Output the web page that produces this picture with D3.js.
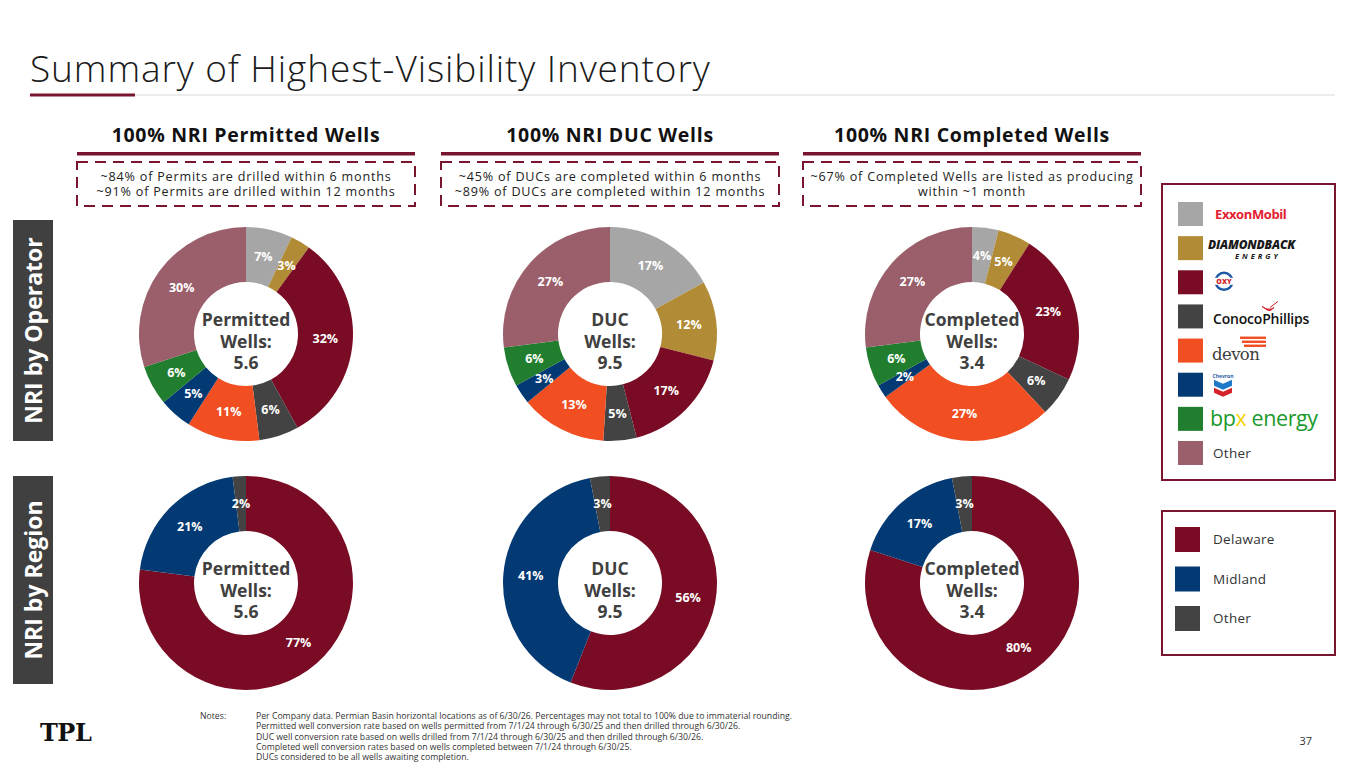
<!DOCTYPE html>
<html lang="en">
<head>
  <meta charset="UTF-8">
  <title>Summary of Highest-Visibility Inventory</title>
  <script src="https://d3js.org/d3.v7.min.js"></script>
  <style>
    body { margin: 0; overflow: hidden; background: #fff; }
    svg { display: block; font-family: "Open Sans", "Noto Sans", sans-serif; }
  </style>
</head>
<body>
  <svg id="slide" width="1365" height="768"></svg>

  <script>
    // ---- data ----
    const operators = ["ExxonMobil", "Diamondback", "Oxy", "ConocoPhillips", "Devon", "Chevron", "bpx energy", "Other"];
    const operatorColors = ["#a6a6a6", "#b18b35", "#790b24", "#434343", "#f14e22", "#043a73", "#217e2e", "#9a5f6a"];
    const permittedByOperator = [7, 3, 32, 6, 11, 5, 6, 30];
    const ducByOperator = [17, 12, 17, 5, 13, 3, 6, 27];
    const completedByOperator = [4, 5, 23, 6, 27, 2, 6, 27];

    const regions = ["Delaware", "Midland", "Other"];
    const regionColors = ["#790b24", "#043a73", "#434343"];
    const permittedByRegion = [77, 21, 2];
    const ducByRegion = [56, 41, 3];
    const completedByRegion = [80, 17, 3];

    const wellTypes = ["Permitted", "DUC", "Completed"];
    const wellCounts = ["5.6", "9.5", "3.4"];
    const headers = ["100% NRI Permitted Wells", "100% NRI DUC Wells", "100% NRI Completed Wells"];
    const callouts = [
      ["~84% of Permits are drilled within 6 months", "~91% of Permits are drilled within 12 months"],
      ["~45% of DUCs are completed within 6 months", "~89% of DUCs are completed within 12 months"],
      ["~67% of Completed Wells are listed as producing", "within ~1 month"]
    ];
    const notes = [
      "Per Company data. Permian Basin horizontal locations as of 6/30/26. Percentages may not total to 100% due to immaterial rounding.",
      "Permitted well conversion rate based on wells permitted from 7/1/24 through 6/30/25 and then drilled through 6/30/26.",
      "DUC well conversion rate based on wells drilled from 7/1/24 through 6/30/25 and then drilled through 6/30/26.",
      "Completed well conversion rates based on wells completed between 7/1/24 through 6/30/25.",
      "DUCs considered to be all wells awaiting completion."
    ];

    // ---- layout ----
    const maroon = "#7a1530";
    const colX = [246, 610, 972];
    const rowY = [334, 583];
    const rOuter = 107, rInner = 52;

    const svg = d3.select("#slide");

    // title
    svg.append("text")
      .attr("x", 30).attr("y", 82)
      .attr("font-size", 37).attr("font-weight", 300)
      .attr("letter-spacing", 0.9)
      .attr("fill", "#1a1a1a")
      .text("Summary of Highest-Visibility Inventory");
    svg.append("line")
      .attr("x1", 30).attr("x2", 1335).attr("y1", 95).attr("y2", 95)
      .attr("stroke", "#d9d9d9").attr("stroke-width", 1);
    svg.append("rect")
      .attr("x", 30).attr("y", 93.5).attr("width", 105).attr("height", 3)
      .attr("fill", maroon);

    // column headers + callout boxes
    const cols = svg.selectAll("g.col").data(headers).join("g")
      .attr("class", "col")
      .attr("transform", (d, i) => `translate(${colX[i]},0)`);

    cols.append("text")
      .attr("text-anchor", "middle").attr("y", 142)
      .attr("font-size", 19.5).attr("font-weight", 700).attr("fill", "#111")
      .attr("letter-spacing", 0.7)
      .text(d => d);
    cols.append("rect")
      .attr("x", -169).attr("y", 152).attr("width", 338).attr("height", 3.5)
      .attr("fill", maroon);
    cols.append("rect")
      .attr("x", -169).attr("y", 162).attr("width", 338).attr("height", 44)
      .attr("fill", "none").attr("stroke", maroon)
      .attr("stroke-width", 2).attr("stroke-dasharray", "11 7");
    cols.each(function (d, i) {
      const t = d3.select(this).append("text")
        .attr("text-anchor", "middle")
        .attr("font-size", 12.6).attr("letter-spacing", 0.8).attr("fill", "#222");
      callouts[i].forEach((line, j) => {
        t.append("tspan").attr("x", 0).attr("y", 181 + j * 15.2).text(line);
      });
    });

    // row labels (vertical)
    const rowLabels = [["NRI by Operator", 220, 221], ["NRI by Region", 476, 208]];
    rowLabels.forEach(([label, top, h]) => {
      svg.append("rect")
        .attr("x", 13).attr("y", top).attr("width", 40).attr("height", h)
        .attr("fill", "#404040");
      svg.append("text")
        .attr("transform", `translate(41.5,${top + h / 2}) rotate(-90)`)
        .attr("text-anchor", "middle")
        .attr("font-size", 23).attr("font-weight", 700).attr("fill", "#fff")
        .text(label);
    });

    // donuts
    const pie = d3.pie().sort(null).value(d => d);
    const arc = d3.arc().innerRadius(rInner).outerRadius(rOuter);
    const labelArc = d3.arc().innerRadius((rInner + rOuter) / 2).outerRadius((rInner + rOuter) / 2);

    function donut(values, colors, cx, cy, typeIdx) {
      const g = svg.append("g").attr("transform", `translate(${cx},${cy})`);
      const arcs = pie(values);
      g.selectAll("path").data(arcs).join("path")
        .attr("d", arc)
        .attr("fill", (d, i) => colors[i]);
      g.selectAll("text.pct").data(arcs).join("text")
        .attr("class", "pct")
        .attr("transform", d => `translate(${labelArc.centroid(d)})`)
        .attr("text-anchor", "middle").attr("dy", "0.36em")
        .attr("font-size", 12.5).attr("font-weight", 700).attr("fill", "#fff")
        .text(d => d.data + "%");
      const c = g.append("text")
        .attr("text-anchor", "middle")
        .attr("font-size", 17.5).attr("font-weight", 700).attr("fill", "#404040");
      [wellTypes[typeIdx], "Wells:", wellCounts[typeIdx]].forEach((line, j) => {
        c.append("tspan").attr("x", 0).attr("y", -8 + j * 21.5).text(line);
      });
    }

    [permittedByOperator, ducByOperator, completedByOperator].forEach((v, i) =>
      donut(v, operatorColors, colX[i], rowY[0], i));
    [permittedByRegion, ducByRegion, completedByRegion].forEach((v, i) =>
      donut(v, regionColors, colX[i], rowY[1], i));

    // operator legend
    svg.append("rect")
      .attr("x", 1162).attr("y", 184).attr("width", 173).attr("height", 296)
      .attr("fill", "none").attr("stroke", maroon).attr("stroke-width", 2);
    const legY = d3.scalePoint().domain(operators).range([202, 441]);
    svg.selectAll("rect.opsw").data(operators).join("rect")
      .attr("class", "opsw")
      .attr("x", 1178).attr("y", d => legY(d))
      .attr("width", 25).attr("height", 24)
      .attr("fill", (d, i) => operatorColors[i]);

    // logo stand-ins
    const lg = svg.append("g");
    const ly = d => legY(d) + 12;
    lg.append("text").attr("x", 1215).attr("y", ly("ExxonMobil") + 5)
      .attr("font-size", 13).attr("font-weight", 700).attr("fill", "#e3212f")
      .attr("letter-spacing", -0.4).text("ExxonMobil");
    lg.append("text").attr("x", 1208).attr("y", ly("Diamondback") + 1)
      .attr("font-size", 12).attr("font-weight", 800).attr("font-style", "italic")
      .attr("fill", "#1a1a1a").attr("letter-spacing", -0.2).text("DIAMONDBACK");
    lg.append("text").attr("x", 1235).attr("y", ly("Diamondback") + 11)
      .attr("font-size", 7.5).attr("font-style", "italic").attr("font-weight", 700)
      .attr("fill", "#1a1a1a").attr("letter-spacing", 3).text("ENERGY");
    // oxy
    const oxy = lg.append("g").attr("transform", `translate(1224,${ly("Oxy") - 1})`);
    oxy.append("circle").attr("r", 8.5).attr("fill", "none").attr("stroke", "#1f5aa6").attr("stroke-width", 2.5);
    oxy.append("rect").attr("x", -10).attr("y", -3.5).attr("width", 20).attr("height", 7).attr("fill", "#fff");
    oxy.append("text").attr("text-anchor", "middle").attr("y", 2.6)
      .attr("font-size", 7).attr("font-weight", 800).attr("fill", "#d3222a").text("OXY");
    lg.append("text").attr("x", 1213).attr("y", ly("ConocoPhillips") + 8)
      .attr("font-size", 14).attr("font-weight", 600).attr("fill", "#111")
      .attr("letter-spacing", -0.2).text("ConocoPhillips");
    lg.append("path")
      .attr("d", `M1262,${ly("ConocoPhillips") - 10} q7,5 12,1 q-3,4 -6,3 z M1270,${ly("ConocoPhillips") - 9} l8,-6`)
      .attr("fill", "#d3222a").attr("stroke", "#d3222a").attr("stroke-width", 1);
    lg.append("text").attr("x", 1212).attr("y", ly("Devon") + 9)
      .attr("font-size", 16.5).attr("font-family", "DejaVu Serif, serif")
      .attr("fill", "#3d3d3d").attr("letter-spacing", -0.6).text("devon");
    [0, 4, 8].forEach((o, k) => {
      lg.append("rect").attr("x", 1240 + k * 2).attr("y", ly("Devon") - 14 + o)
        .attr("width", 26 - k * 2).attr("height", 2.4).attr("fill", "#f14e22");
    });
    const chev = lg.append("g").attr("transform", `translate(1223,${ly("Chevron")})`);
    chev.append("text").attr("text-anchor", "middle").attr("y", -7)
      .attr("font-size", 5).attr("font-weight", 700).attr("fill", "#1f5aa6").text("Chevron");
    chev.append("path").attr("d", "M-9,-5 L0,-1 L9,-5 L9,1 L0,5 L-9,1 Z").attr("fill", "#1f78c8");
    chev.append("path").attr("d", "M-9,3 L0,7 L9,3 L9,8 L0,12 L-9,8 Z").attr("fill", "#d3222a");
    const bpx = lg.append("text").attr("x", 1210).attr("y", ly("bpx energy") + 7)
      .attr("font-size", 21.5).attr("fill", "#1a9a2d").attr("letter-spacing", -0.4);
    bpx.append("tspan").text("bp");
    bpx.append("tspan").attr("fill", "#f2d300").text("x");
    bpx.append("tspan").text(" energy");
    lg.append("text").attr("x", 1213).attr("y", ly("Other") + 5)
      .attr("font-size", 13.5).attr("letter-spacing", 0.3).attr("fill", "#333").text("Other");

    // region legend
    svg.append("rect")
      .attr("x", 1162).attr("y", 511).attr("width", 173).attr("height", 144)
      .attr("fill", "none").attr("stroke", maroon).attr("stroke-width", 2);
    const regY = d3.scalePoint().domain(regions).range([527, 606]);
    const reg = svg.selectAll("g.reg").data(regions).join("g")
      .attr("class", "reg")
      .attr("transform", d => `translate(1175,${regY(d)})`);
    reg.append("rect").attr("width", 25).attr("height", 25)
      .attr("fill", (d, i) => regionColors[i]);
    reg.append("text").attr("x", 38).attr("y", 17)
      .attr("font-size", 13.5).attr("letter-spacing", 0.3).attr("fill", "#333").text(d => d);

    // footer
    svg.append("text").attr("x", 40).attr("y", 741)
      .attr("font-family", "DejaVu Serif, serif").attr("font-weight", 700)
      .attr("font-size", 24).attr("letter-spacing", -0.5).attr("fill", "#111")
      .text("TPL");
    svg.append("text").attr("x", 200).attr("y", 719)
      .attr("font-size", 8.7).attr("fill", "#333").text("Notes:");
    const nt = svg.append("text").attr("font-size", 8.7).attr("fill", "#333");
    notes.forEach((line, j) => {
      nt.append("tspan").attr("x", 256).attr("y", 719 + j * 10.3).text(line);
    });
    svg.append("text").attr("x", 1312).attr("y", 745)
      .attr("text-anchor", "end").attr("font-size", 11).attr("fill", "#333")
      .text("37");
  </script>
</body>
</html>
